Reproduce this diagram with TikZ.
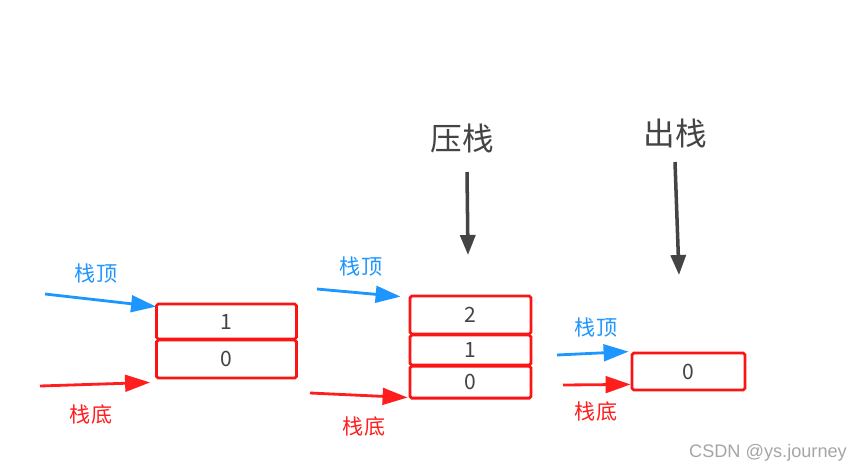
\documentclass[tikz,border=0pt]{standalone}
\usepackage{fontspec}
\setmainfont{Noto Sans CJK SC}
\newfontfamily\markfont{Liberation Sans}
\usetikzlibrary{arrows.meta,positioning}
\definecolor{topblue}{RGB}{30,150,255}
\definecolor{botred}{RGB}{255,30,30}
\definecolor{boxred}{RGB}{250,20,20}
\definecolor{darkgrey}{RGB}{68,68,68}

\begin{document}
\begin{tikzpicture}[x=0.03cm,y=-0.03cm,node distance=0pt,
  cell/.style={rectangle,draw=boxred,line width=2.4pt,rounded corners=1.5pt,minimum width=4.2cm,minimum height=1.08cm,inner sep=0pt,font=\fontsize{18}{18}\selectfont,text=darkgrey},
  title/.style={font=\fontsize{27}{27}\selectfont,text=darkgrey},
  toplabel/.style={font=\fontsize{18}{18}\selectfont,text=topblue},
  botlabel/.style={font=\fontsize{18}{18}\selectfont,text=botred},
  toparrow/.style={-{Triangle[length=7.5mm,width=5mm]},line width=2.4pt,topblue},
  botarrow/.style={-{Triangle[length=7.5mm,width=5mm]},line width=2.4pt,botred},
  downarrow/.style={-{Triangle[length=6mm,width=4.5mm]},line width=3pt,darkgrey}]
\useasboundingbox[fill=white] (0,0) rectangle (865,474);

% first stack
\node[cell,minimum height=1.05cm] (b11) at (226.5,321.5) {1};
\node[cell,below=-1.5pt of b11,minimum height=1.14cm] (b10) {0};
\node[toplabel] (t1) at (96,274) {栈顶};
\node[botlabel] (d1) at (91,414) {栈底};
\coordinate (t1from) at (45,294);
\coordinate (d1from) at (40,386);
\draw[toparrow] (t1from) -- ([shift={(1,4)}]b11.north west);
\draw[botarrow] (d1from) -- ([shift={(-5,3)}]b10.south west);

% push
\node[title] (push) at (462,138) {压栈};
\coordinate (pushfrom) at (467,172);
\coordinate (pushto) at (468,255);
\draw[downarrow] (pushfrom) -- (pushto);
\node[cell,minimum width=3.63cm,minimum height=1.14cm] (b22) at (470.5,315) {2};
\node[cell,below=-1.5pt of b22,minimum width=3.63cm,minimum height=0.9cm] (b21) {1};
\node[cell,below=-1.5pt of b21,minimum width=3.63cm,minimum height=0.96cm] (b20) {0};
\node[toplabel] (t2) at (361,267) {栈顶};
\node[botlabel] (d2) at (364,426) {栈底};
\coordinate (t2from) at (317,289);
\coordinate (d2from) at (310,393);
\draw[toparrow] (t2from) -- ([shift={(-8,2)}]b22.north west);
\draw[botarrow] (d2from) -- ([shift={(-1,-2)}]b20.south west);

% pop
\node[title] (pop) at (675,133) {出栈};
\coordinate (popfrom) at (675,162);
\coordinate (popto) at (679,275);
\draw[downarrow] (popfrom) -- (popto);
\node[cell,minimum width=3.39cm,minimum height=1.11cm] (b30) at (688.5,371.5) {0};
\node[toplabel] (t3) at (596,328) {栈顶};
\node[botlabel] (d3) at (596,411) {栈底};
\coordinate (t3from) at (557,355);
\coordinate (d3from) at (563,385);
\draw[toparrow] (t3from) -- ([shift={(-2,0)}]b30.north west);
\draw[botarrow] (d3from) -- ([shift={(0,-7)}]b30.south west);

\node[font=\markfont\fontsize{15.5}{15.5}\selectfont,text=black!35] (mark) at (768,453) {CSDN @ys.journey};
\end{tikzpicture}
\end{document}
